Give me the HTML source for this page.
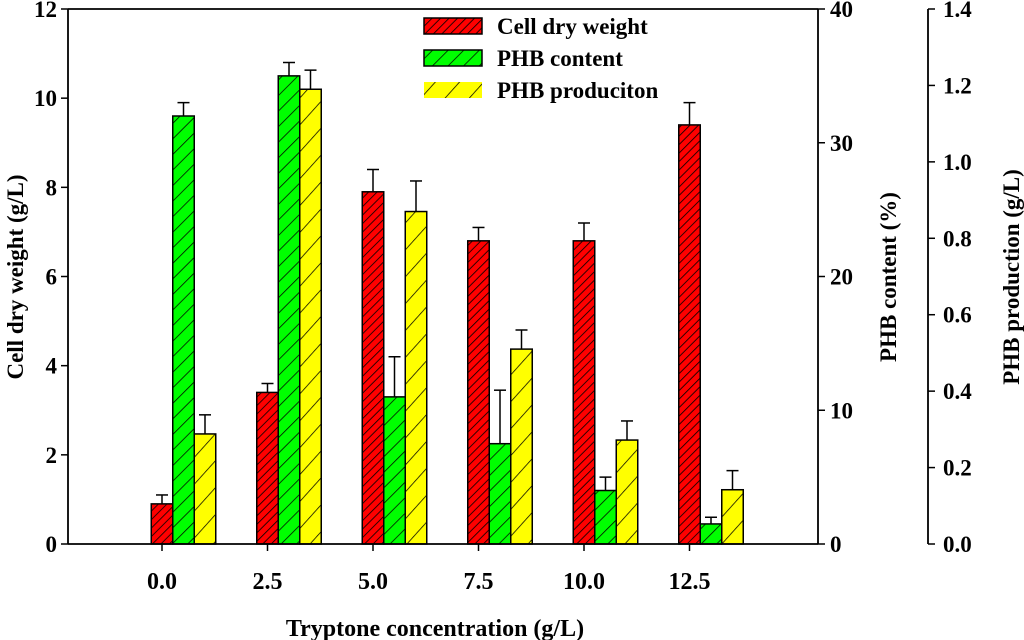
<!DOCTYPE html>
<html><head><meta charset="utf-8"><style>
body{margin:0;background:#fff}
svg{display:block}
svg text{font-family:"Liberation Serif",serif;font-weight:bold}
</style></head><body>
<svg id="chart" width="1024" height="640" viewBox="0 0 1024 640" xmlns="http://www.w3.org/2000/svg">
<defs>
<pattern id="hr" patternUnits="userSpaceOnUse" width="6" height="6" patternTransform="rotate(45)"><rect width="6" height="6" fill="#f00"/><line x1="0" y1="0" x2="0" y2="6" stroke="#000" stroke-width="1.6"/></pattern>
<pattern id="hg" patternUnits="userSpaceOnUse" width="11" height="11" patternTransform="rotate(45)"><rect width="11" height="11" fill="#0f0"/><line x1="0" y1="0" x2="0" y2="11" stroke="#000" stroke-width="1.5"/></pattern>
<pattern id="hy" patternUnits="userSpaceOnUse" width="18" height="18" patternTransform="rotate(42)"><rect width="18" height="18" fill="#ff0"/><line x1="0" y1="0" x2="0" y2="18" stroke="#000" stroke-width="1.5"/></pattern>
</defs>
<g id="plot"></g>
</svg>
<script>
const categories=["0.0","2.5","5.0","7.5","10.0","12.5"];
const cdw=[0.9,3.4,7.9,6.8,6.8,9.4];
const cdwErr=[0.2,0.2,0.5,0.3,0.4,0.5];
const phbContent=[32,35,11,7.5,4,1.5];
const phbContentErr=[1,1,3,4,1,0.5];
const phbProd=[0.288,1.19,0.87,0.51,0.272,0.142];
const phbProdErr=[0.05,0.05,0.08,0.05,0.05,0.05];
const leftTicks=[0,2,4,6,8,10,12];
const midTicks=[0,10,20,30,40];
const rightTicks=[0,0.2,0.4,0.6,0.8,1.0,1.2,1.4];

const NS="http://www.w3.org/2000/svg";
const g=document.getElementById('plot');
const X0=68,X1=818,Y0=544,Y1=9;
const yL=v=>Y0-(v/12)*(Y0-Y1);
const yM=v=>Y0-(v/40)*(Y0-Y1);
const yR=v=>Y0-(v/1.4)*(Y0-Y1);
const xc=i=>162+i*105.5;
const BW=21.5;
function el(t,a,txt){const e=document.createElementNS(NS,t);for(const k in a)e.setAttribute(k,a[k]);if(txt!==undefined){e.textContent=txt;e.setAttribute('font-weight','bold');}g.appendChild(e);return e;}

function bars(vals,errs,ys,fill,off,name){
  vals.forEach((v,i)=>{
    const x=xc(i)-BW/2+off*BW,y=ys(v);
    const top=ys(v+errs[i]);
    const l=el('line',{x1:x+BW/2,x2:x+BW/2,y1:y,y2:top,stroke:'#000','stroke-width':1.5});
    
    
    const c=el('line',{x1:x+BW/2-6,x2:x+BW/2+6,y1:top,y2:top,stroke:'#000','stroke-width':1.5});
    
    
    const r=el('rect',{x:x,y:y,width:BW,height:Y0-y,fill:fill,stroke:'#000','stroke-width':1.5});
    
    
  });
}
bars(cdw,cdwErr,yL,'url(#hr)',0,'cell-dry-weight');
bars(phbContent,phbContentErr,yM,'url(#hg)',1,'phb-content');
bars(phbProd,phbProdErr,yR,'url(#hy)',2,'phb-production');

let a=el('line',{x1:X0,x2:X1,y1:Y0,y2:Y0,stroke:'#000','stroke-width':1.8});
a=el('line',{x1:X0,x2:X1,y1:Y1,y2:Y1,stroke:'#000','stroke-width':1.8});
a=el('line',{x1:X0,x2:X0,y1:Y1,y2:Y0,stroke:'#000','stroke-width':1.8});
a=el('line',{x1:X1,x2:X1,y1:Y1,y2:Y0,stroke:'#000','stroke-width':1.8});
a=el('line',{x1:928,x2:928,y1:Y1,y2:Y0,stroke:'#000','stroke-width':1.8});

categories.forEach((c,i)=>{
  el('line',{x1:xc(i),x2:xc(i),y1:Y0,y2:Y0+7,stroke:'#000','stroke-width':1.5});
  const t=el('text',{x:xc(i),y:Y0+45,'text-anchor':'middle','font-size':24},c);
  
  
});
leftTicks.forEach(v=>{
  el('line',{x1:X0-7,x2:X0,y1:yL(v),y2:yL(v),stroke:'#000','stroke-width':1.5});
  const t=el('text',{x:X0-11,y:yL(v)+8,'text-anchor':'end','font-size':23},v);
  
  
});
midTicks.forEach(v=>{
  el('line',{x1:X1,x2:X1+7,y1:yM(v),y2:yM(v),stroke:'#000','stroke-width':1.5});
  const t=el('text',{x:X1+12,y:yM(v)+8,'text-anchor':'start','font-size':23},v);
  
  
});
rightTicks.forEach(v=>{
  el('line',{x1:928,x2:935,y1:yR(v),y2:yR(v),stroke:'#000','stroke-width':1.5});
  const t=el('text',{x:943,y:yR(v)+8,'text-anchor':'start','font-size':23},v.toFixed(1));
  
  
});
let t=el('text',{x:435,y:636,'text-anchor':'middle','font-size':24},'Tryptone concentration (g/L)');

t=el('text',{x:0,y:0,'text-anchor':'middle','font-size':23,transform:'translate(23,277) rotate(-90)'},'Cell dry weight (g/L)');

t=el('text',{x:0,y:0,'text-anchor':'middle','font-size':23,transform:'translate(896,277) rotate(-90)'},'PHB content (%)');

t=el('text',{x:0,y:0,'text-anchor':'middle','font-size':23,transform:'translate(1019,277) rotate(-90)'},'PHB production (g/L)');


[['url(#hr)','Cell dry weight','legend-cell-dry-weight',true],['url(#hg)','PHB content','legend-phb-content',true],['url(#hy)','PHB produciton','legend-phb-production',false]].forEach((L,i)=>{
  const y=18+i*32;
  const r=el('rect',{x:424,y:y,width:58,height:16,fill:L[0],stroke:L[3]?'#000':'none','stroke-width':1.5});
  
  const tx=el('text',{x:497,y:y+16,'font-size':23},L[1]);
  
});
</script>
</body></html>
